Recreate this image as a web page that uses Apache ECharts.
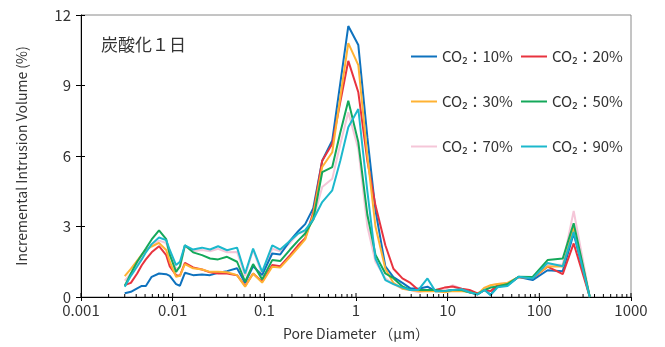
<!DOCTYPE html>
<html><head><meta charset="utf-8">
<script src="https://cdn.jsdelivr.net/npm/echarts@6/dist/echarts.min.js"></script>
<style>html,body{margin:0;padding:0;background:#fff;}#c{width:665px;height:347px;}</style>
</head><body><div id="c"></div>
<script>
const diameters = [0.0030,0.0035,0.0041,0.0046,0.0051,0.0059,0.0071,0.0085,0.0093,0.0109,0.0120,0.0136,0.0167,0.0209,0.0256,0.0313,0.0392,0.0504,0.0617,0.0754,0.0946,0.122,0.149,0.191,0.234,0.279,0.342,0.428,0.551,0.674,0.824,1.06,1.33,1.63,2.09,2.56,3.21,3.92,4.80,6.02,7.36,9.23,11.3,14.2,17.3,21.2,25.3,29.4,35.0,45.0,59.4,84.5,123,180,237,355];
const co2_10 = [0.16,0.22,0.37,0.47,0.47,0.86,1.0,0.97,0.9,0.55,0.48,1.03,0.93,0.96,0.93,1.03,1.1,1.22,0.6,1.31,0.93,1.85,1.81,2.4,2.8,3.1,3.78,5.8,6.66,9.1,11.53,10.72,6.8,3.7,1.3,0.85,0.6,0.37,0.35,0.44,0.25,0.25,0.3,0.3,0.2,0.12,0.3,0.1,0.45,0.5,0.85,0.72,1.14,1.1,2.7,0];
const co2_20 = [0.51,0.6,1.0,1.35,1.6,1.9,2.16,1.78,1.3,0.93,0.9,1.45,1.26,1.17,1.05,1.0,1.0,0.93,0.47,1.0,0.65,1.36,1.31,1.78,2.2,2.5,3.6,5.8,6.52,8.3,10.05,8.71,5.8,3.9,2.2,1.2,0.79,0.6,0.3,0.3,0.3,0.4,0.45,0.35,0.3,0.15,0.3,0.25,0.5,0.55,0.85,0.8,1.29,0.97,2.28,0];
const co2_30 = [0.89,1.2,1.55,1.8,2.0,2.15,2.3,2.0,1.5,0.86,0.9,1.4,1.22,1.17,1.07,1.07,1.05,0.93,0.44,1.0,0.61,1.29,1.25,1.71,2.1,2.45,3.5,5.53,6.16,8.5,10.8,9.87,6.0,3.0,1.2,0.6,0.35,0.3,0.25,0.25,0.25,0.2,0.25,0.25,0.2,0.12,0.4,0.5,0.55,0.6,0.85,0.82,1.3,1.3,2.97,0];
const co2_50 = [0.47,1.0,1.5,1.8,2.06,2.45,2.84,2.46,1.8,1.07,1.3,2.2,1.9,1.78,1.64,1.6,1.71,1.5,0.65,1.4,0.75,1.57,1.53,2.02,2.4,2.7,3.3,5.31,5.53,7.0,8.35,6.59,3.5,1.8,1.0,0.8,0.45,0.3,0.3,0.3,0.3,0.25,0.3,0.3,0.2,0.12,0.3,0.4,0.45,0.55,0.86,0.85,1.57,1.64,3.14,0];
const co2_70 = [0.7,1.0,1.4,1.7,2.0,2.2,2.4,2.3,1.8,1.2,1.25,2.15,1.95,2.0,1.95,2.05,1.9,1.92,0.9,2.0,0.95,2.05,1.95,2.3,2.7,2.8,3.3,4.68,5.03,6.5,7.86,6.3,3.0,1.5,0.8,0.55,0.35,0.3,0.2,0.3,0.3,0.3,0.5,0.35,0.25,0.12,0.3,0.5,0.55,0.6,0.85,0.8,1.36,1.38,3.66,0];
const co2_90 = [0.44,0.9,1.3,1.6,1.9,2.25,2.53,2.42,2.0,1.36,1.5,2.2,2.02,2.1,2.02,2.16,1.99,2.1,1.0,2.06,1.07,2.2,2.02,2.39,2.7,2.85,3.3,4.04,4.54,5.8,7.22,8.0,4.5,1.64,0.72,0.55,0.4,0.3,0.3,0.79,0.24,0.25,0.3,0.33,0.2,0.11,0.3,0.08,0.41,0.47,0.86,0.79,1.45,1.31,2.77,0];
const seriesNames = ['CO₂：10%','CO₂：20%','CO₂：30%','CO₂：50%','CO₂：70%','CO₂：90%'];
const seriesColors = ['#0E72BE','#E8333E','#FFB233','#14A85A','#F5C6D8','#1CB8CC'];
const xTickLabels = ['0.001','0.01','0.1','1','10','100','1000'];
const yTicks = [0,3,6,9,12];
const titleText = '炭酸化１日';

const allVals = [co2_10,co2_20,co2_30,co2_50,co2_70,co2_90];
const FONT = '"Noto Sans CJK JP","Noto Sans",sans-serif';

// inside tick positions for log axis (majors and minors 2..9)
const tickVals = [];
for (let e = -3; e < 3; e++) {
  for (let m = 1; m <= 9; m++) tickVals.push([m * Math.pow(10, e), m === 1 ? 1 : 0]);
}
tickVals.push([1000, 1]);

const chart = echarts.init(document.getElementById('c'));
const lineSeries = allVals.map((vals, i) => ({
  name: seriesNames[i], type: 'line', symbol: 'none', smooth: false,
  xAxisIndex: 0, yAxisIndex: 0,
  lineStyle: { width: 2, color: seriesColors[i] }, itemStyle: { color: seriesColors[i] },
  data: diameters.map((d, j) => [d, vals[j]]),
  z: 3 + (i === 4 ? -1 : 0)
}));
function fmtX(v) {
  const e = Math.round(Math.log10(v));
  return xTickLabels[e + 3] || '';
}
chart.setOption({
  animation: false,
  backgroundColor: '#fff',
  title: { text: titleText, left: 96, top: 31, textStyle: { fontFamily: FONT, fontSize: 17, fontWeight: 'normal', color: '#333' } },
  grid: { left: 81, right: 34, top: 15, bottom: 50, show: true, borderColor: '#8a8a8a', borderWidth: 1 },
  legend: [
    { data: [seriesNames[0], seriesNames[2], seriesNames[4]], orient: 'vertical', left: 406, top: 43,
      icon: 'rect', itemWidth: 26, itemHeight: 2, itemGap: 28,
      textStyle: { fontFamily: FONT, fontSize: 15, color: '#333', lineHeight: 17 } },
    { data: [seriesNames[1], seriesNames[3], seriesNames[5]], orient: 'vertical', left: 516, top: 43,
      icon: 'rect', itemWidth: 26, itemHeight: 2, itemGap: 28,
      textStyle: { fontFamily: FONT, fontSize: 15, color: '#333', lineHeight: 17 } }
  ],
  xAxis: [{
    type: 'log', logBase: 10, min: 0.001, max: 1000,
    name: 'Pore Diameter （μm）', nameLocation: 'middle', nameGap: 30,
    nameTextStyle: { fontFamily: FONT, fontSize: 14, color: '#333' },
    axisLine: { show: true, lineStyle: { color: '#000', width: 1 } },
    axisTick: { show: true, inside: false, length: 4, lineStyle: { color: '#000' } },
    axisLabel: { fontFamily: FONT, fontSize: 15, color: '#333', margin: 6, formatter: fmtX, showMinLabel: true, showMaxLabel: true },
    splitLine: { show: false }
  }],
  yAxis: [{
    type: 'value', min: 0, max: 12, interval: 3,
    name: 'Incremental Intrusion Volume (%)', nameLocation: 'middle', nameGap: 52,
    nameTextStyle: { fontFamily: FONT, fontSize: 14, color: '#333' },
    axisLine: { show: true, lineStyle: { color: '#000', width: 1 } },
    axisTick: { show: true, inside: false, length: 5, lineStyle: { color: '#000' } },
    axisLabel: { fontFamily: FONT, fontSize: 15, color: '#333', margin: 10 },
    splitLine: { show: false }
  }, {
    type: 'value', min: 0, max: 12, interval: 3, position: 'left',
    axisLine: { show: false },
    axisTick: { show: true, inside: true, length: 4, lineStyle: { color: '#000' } },
    axisLabel: { show: false }, splitLine: { show: false }
  }],
  series: lineSeries.concat([{
    type: 'custom', xAxisIndex: 0, yAxisIndex: 0, silent: true, clip: false, z: 10,
    data: tickVals,
    renderItem: function (params, api) {
      const p = api.coord([api.value(0), 0]);
      const len = api.value(1) ? 4 : 3;
      return { type: 'line', shape: { x1: p[0], y1: p[1], x2: p[0], y2: p[1] - len },
        style: { stroke: '#000', lineWidth: 1 } };
    }
  }])
});
</script></body></html>
